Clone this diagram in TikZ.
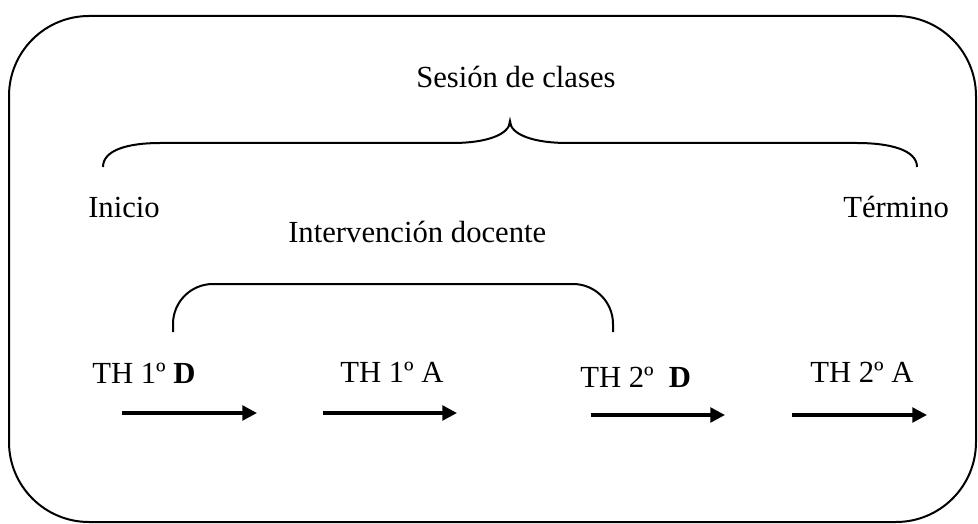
\documentclass[tikz,border=0pt]{standalone}
\usepackage{fontspec}
\setmainfont{Liberation Serif}
\usetikzlibrary{arrows.meta}
\begin{document}
\begin{tikzpicture}[x=0.75pt,y=-0.75pt,
  lbl/.style={anchor=base west,inner sep=0pt,font=\fontsize{23}{28}\selectfont},
  outline/.style={line width=1.5pt},
  flow/.style={line width=2.5pt,-{Triangle[length=11pt,width=11pt]}}]
\useasboundingbox (0,0) rectangle (978,524);
% outer frame
\draw[outline,rounded corners=60pt] (9,16) rectangle (976,522);
% labels
\node[lbl] (sesion) at (416,88) {Sesión de clases};
\node[lbl] (inicio) at (88,218) {Inicio};
\node[lbl] (termino) at (843,218) {Término};
\node[lbl] (interv) at (288,243) {Intervención docente};
\node[lbl] (th1d) at (92,383) {TH 1º \textbf{D}};
\node[lbl] (th1a) at (340,382) {TH 1º A};
\node[lbl] (th2d) at (580,387) {TH 2º~~\textbf{D}};
\node[lbl] (th2a) at (810,382) {TH 2º A};
% big brace
\coordinate (bl) at (103,167);
\coordinate (bt) at (510,121);
\coordinate (br) at (917,167);
\draw[outline] (bl) .. controls (103,150) and (128,143) .. (160,143) -- (453,143)
  .. controls (485,143) and (510,135) .. (bt)
  .. controls (510,135) and (535,143) .. (567,143) -- (857,143)
  .. controls (890,143) and (917,150) .. (br);
% inner bracket
\coordinate (il) at (173,332);
\coordinate (ir) at (613,332);
\draw[outline,rounded corners=30pt] (il) -- (173,284) -- (613,284) -- (ir);
% arrows
\coordinate (a1s) at (122,413); \coordinate (a1e) at (257,413);
\coordinate (a2s) at (323,413); \coordinate (a2e) at (457,413);
\coordinate (a3s) at (591,415); \coordinate (a3e) at (725,415);
\coordinate (a4s) at (792,415); \coordinate (a4e) at (927,415);
\draw[flow] (a1s) -- (a1e);
\draw[flow] (a2s) -- (a2e);
\draw[flow] (a3s) -- (a3e);
\draw[flow] (a4s) -- (a4e);
\end{tikzpicture}
\end{document}
